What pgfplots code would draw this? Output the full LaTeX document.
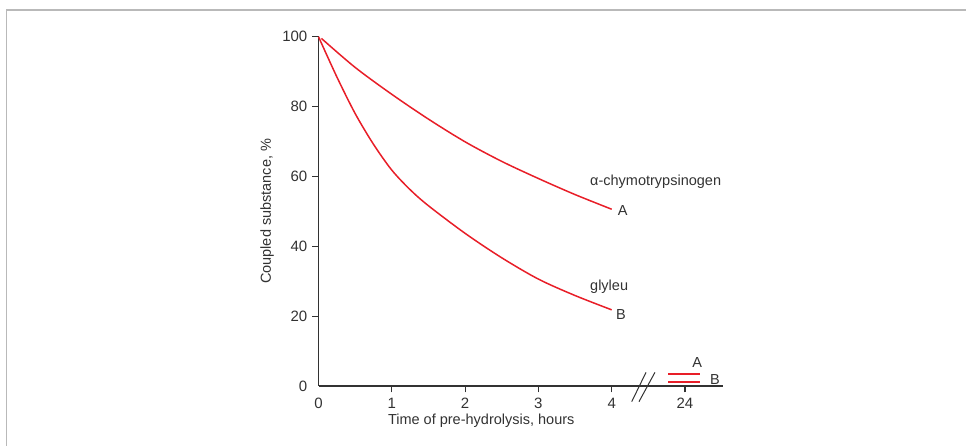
\documentclass[border=0pt]{standalone}
\usepackage{fontspec}
\setmainfont{Liberation Sans}
\usepackage{pgfplots}
\pgfplotsset{compat=1.18}

\definecolor{curve}{RGB}{232,30,40}
\definecolor{ink}{RGB}{50,50,50}
\definecolor{frame}{RGB}{185,185,185}

\begin{document}
\begin{tikzpicture}[x=1bp,y=1bp]
  \useasboundingbox (0,0) rectangle (966,446);
  % page frame, top and left only
  \draw[frame, line width=1.5bp] (6.5,0) -- (6.5,436) -- (966,436);

  \begin{axis}[
      at={(318.5bp,60bp)}, anchor=south west,
      scale only axis,
      width=404.6bp, height=349.3bp,
      xmin=0, xmax=5.52, ymin=0, ymax=100,
      axis x line*=bottom, axis y line*=left,
      axis line style={ink, line width=1.3bp},
      tick align=outside, major tick length=6.5bp,
      tick style={ink, line width=1.1bp},
      /pgf/number format/assume math mode=true,
      xtick={1,2,3,4,5}, xticklabels={1,2,3,4,24},
      ytick={20,40,60,80,100},
      every tick label/.append style={font=\fontsize{15bp}{18bp}\selectfont, text=ink},
      xticklabel style={anchor=base, inner sep=0pt, yshift=-15.8bp},
      yticklabel style={anchor=east, inner sep=0pt, xshift=-4.5bp},
      extra x ticks={0},
      extra x tick style={major tick length=0pt, xticklabel style={yshift=-6.5bp}},
      extra y ticks={0},
      extra y tick style={major tick length=0pt, yticklabel style={xshift=-6.5bp}},
      clip=false,
    ]
    % A: alpha-chymotrypsinogen
    \addplot[curve, line width=1.5bp, smooth] coordinates {
      (0.04,99.5) (0.5,91.2) (1,83.5) (1.5,76.4) (2,69.9)
      (2.5,64.3) (3,59.4) (3.5,54.8) (4,50.6)
    };
    % B: glyleu
    \addplot[curve, line width=1.5bp, smooth] coordinates {
      (0,100) (0.25,88.5) (0.5,78) (0.75,69.2) (1,61.8) (1.25,56.2)
      (1.5,51.6) (2,43.7) (2.5,36.7) (3,30.6) (3.5,25.9) (4,21.8)
    };
    % values at 24 h
    \addplot[curve, line width=1.5bp] coordinates {(4.77,3.4) (5.2,3.4)};
    \addplot[curve, line width=1.5bp] coordinates {(4.77,1.2) (5.2,1.2)};

    % axis break
    \draw[ink, line width=1bp] (axis cs:4.273,-4.5) -- (axis cs:4.468,3.9);
    \draw[ink, line width=1bp] (axis cs:4.372,-4.5) -- (axis cs:4.59,3.9);

    \begin{scope}[every node/.style={font=\fontsize{14.5bp}{17bp}\selectfont, text=ink, inner sep=0pt}]
      \node[anchor=base west] at (axis cs:3.704,57.26) {α-chymotrypsinogen};
      \node[anchor=base west] at (axis cs:4.082,48.67) {A};
      \node[anchor=base west] at (axis cs:3.704,27.28) {glyleu};
      \node[anchor=base west] at (axis cs:4.059,18.9) {B};
      \node[anchor=base] at (axis cs:5.168,5.35) {A};
      \node[anchor=base west] at (axis cs:5.341,0.49) {B};
      \node[anchor=base] at ([yshift=-38.3bp]axis cs:2.22,0) {Time of pre-hydrolysis, hours};
      \node[rotate=90, anchor=center] at ([xshift=-51.5bp]axis cs:0,50) {Coupled substance, \%};
    \end{scope}
  \end{axis}
\end{tikzpicture}
\end{document}
